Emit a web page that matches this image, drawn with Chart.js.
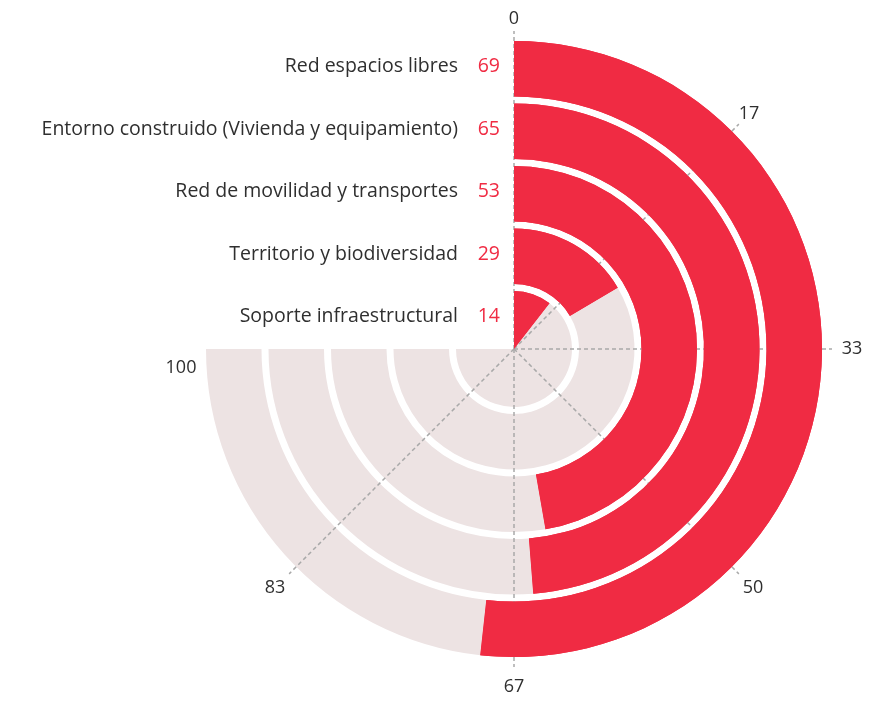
<!DOCTYPE html>
<html>
<head>
<meta charset="utf-8">
<script src="https://cdn.jsdelivr.net/npm/chart.js@4/dist/chart.umd.min.js"></script>
<style>
  html, body { margin: 0; padding: 0; background: #fff; }
  #wrap { width: 880px; height: 701px; }
</style>
</head>
<body>
<div id="wrap"><canvas id="radial-bars" width="880" height="701"></canvas></div>
<script>
// --< Data >--
const categories = [
  "Red espacios libres",
  "Entorno construido (Vivienda y equipamiento)",
  "Red de movilidad y transportes",
  "Territorio y biodiversidad",
  "Soporte infraestructural"
];
const shownValues = [69, 65, 53, 29, 14];   // numbers printed next to the labels
const arcValues = [69, 65, 63, 22, 14];     // length of the drawn arcs
const tickLabels = ["0", "17", "33", "50", "67", "83", "100"];
const scaleMax = 100;
// --</ Data >--

const RED = "#f02b43";
const TRACK = "#ede3e3";
const TEXT = "#2f2f2f";
const FONT = "'Open Sans', 'Noto Sans', sans-serif";

const RING_WEIGHT = 55.5;
const INNER_WEIGHT = 58;
const GAP_WEIGHT = 7;

// one ring per category, a transparent spacer ring between them
const datasets = [];
const ringIndex = [];
categories.forEach((c, i) => {
  ringIndex.push(datasets.length);
  datasets.push({
    label: c,
    data: [arcValues[i], scaleMax - arcValues[i]],
    backgroundColor: [RED, TRACK],
    borderWidth: 0,
    weight: i === categories.length - 1 ? INNER_WEIGHT : RING_WEIGHT
  });
  if (i < categories.length - 1) {
    datasets.push({
      label: "gap",
      data: [scaleMax],
      backgroundColor: ["rgba(0,0,0,0)"],
      borderWidth: 0,
      weight: GAP_WEIGHT
    });
  }
});

// dashed spokes + tick labels + category labels
const decorations = {
  id: "decorations",
  afterDatasetsDraw(chart) {
    const ctx = chart.ctx;
    const first = chart.getDatasetMeta(0).data[0];
    const cx = first.x, cy = first.y;
    const outer = first.outerRadius;
    const sweep = (chart.options.circumference / 180) * Math.PI;
    const step = sweep / (tickLabels.length - 1);

    // spokes (none on the closing edge at 100)
    ctx.save();
    ctx.strokeStyle = "#a9a9a9";
    ctx.lineWidth = 1.5;
    ctx.setLineDash([4, 3]);
    tickLabels.slice(0, -1).forEach((t, k) => {
      const a = k * step;
      ctx.beginPath();
      ctx.moveTo(cx, cy);
      ctx.lineTo(cx + (outer + 10) * Math.sin(a), cy - (outer + 10) * Math.cos(a));
      ctx.stroke();
    });
    ctx.restore();

    // red arcs go back on top of the spokes
    ringIndex.forEach(di => chart.getDatasetMeta(di).data[0].draw(ctx));

    // tick labels
    ctx.save();
    ctx.fillStyle = TEXT;
    ctx.font = "18px " + FONT;
    ctx.textAlign = "center";
    ctx.textBaseline = "middle";
    tickLabels.forEach((t, k) => {
      const a = k * step;
      const r = outer + 30 - 8 * Math.max(0, Math.cos(a));
      let x = cx + r * Math.sin(a);
      let y = cy - r * Math.cos(a);
      if (k === tickLabels.length - 1) { x += 5; y += 19; }
      ctx.fillText(t, x, y);
    });
    ctx.restore();

    // category labels with values
    ctx.save();
    ctx.font = "19.5px " + FONT;
    ctx.textBaseline = "middle";
    ctx.textAlign = "right";
    categories.forEach((c, i) => {
      const arc = chart.getDatasetMeta(ringIndex[i]).data[0];
      const y = cy - (arc.outerRadius - RING_WEIGHT / 2) - 2;
      ctx.fillStyle = TEXT;
      ctx.fillText(c, cx - 56, y);
      ctx.fillStyle = RED;
      ctx.fillText(String(shownValues[i]), cx - 14, y);
    });
    ctx.restore();
  }
};

new Chart(document.getElementById("radial-bars"), {
  type: "doughnut",
  data: { labels: ["value", "rest"], datasets: datasets },
  options: {
    responsive: false,
    animation: false,
    events: [],
    rotation: 0,
    circumference: 270,
    cutout: 0,
    layout: { padding: { left: 206, right: 58, top: 41, bottom: 44 } },
    plugins: {
      legend: { display: false },
      tooltip: { enabled: false }
    }
  },
  plugins: [decorations]
});
</script>
</body>
</html>
